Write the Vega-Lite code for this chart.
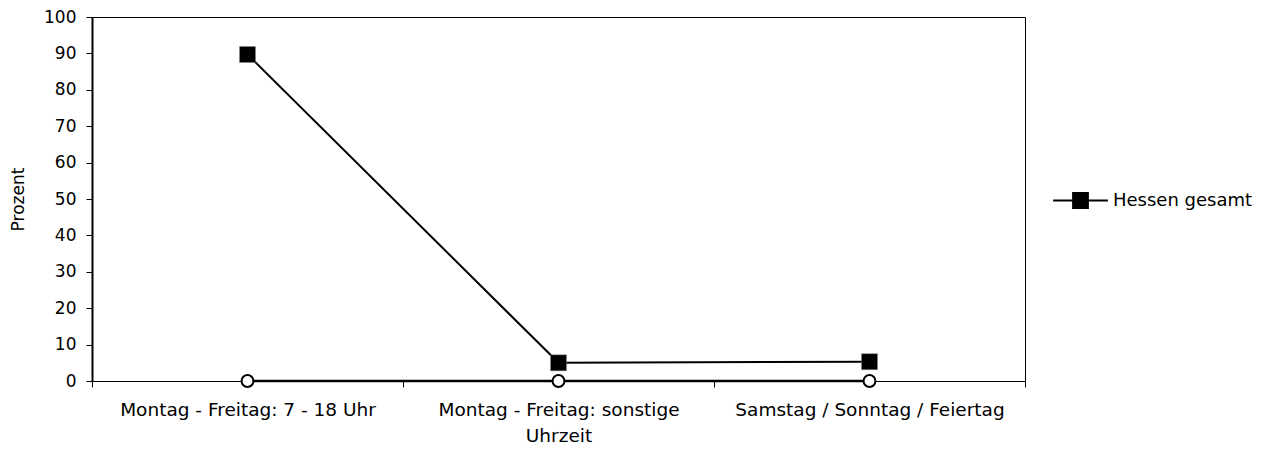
{
  "$schema": "https://vega.github.io/schema/vega-lite/v6.json",
  "width": 933,
  "height": 364,
  "autosize": {"type": "none"},
  "padding": {"left": 92, "top": 17, "right": 246, "bottom": 74},
  "background": "white",
  "config": {
    "font": "DejaVu Sans",
    "view": {"stroke": "black", "strokeWidth": 1},
    "axis": {
      "grid": false,
      "labelFont": "DejaVu Sans",
      "labelFontSize": 17,
      "labelColor": "black",
      "titleFont": "DejaVu Sans",
      "titleFontSize": 17,
      "titleFontWeight": "normal",
      "titleColor": "black",
      "tickColor": "black",
      "domainColor": "black",
      "tickSize": 6
    }
  },
  "data": {
    "values": [
      {"kategorie": "Montag - Freitag: 7 - 18 Uhr", "serie": "Hessen gesamt", "prozent": 89.7},
      {"kategorie": "Montag - Freitag: sonstige Uhrzeit", "serie": "Hessen gesamt", "prozent": 5.0},
      {"kategorie": "Samstag / Sonntag / Feiertag", "serie": "Hessen gesamt", "prozent": 5.3},
      {"kategorie": "Montag - Freitag: 7 - 18 Uhr", "serie": "Andere", "prozent": 0},
      {"kategorie": "Montag - Freitag: sonstige Uhrzeit", "serie": "Andere", "prozent": 0},
      {"kategorie": "Samstag / Sonntag / Feiertag", "serie": "Andere", "prozent": 0}
    ]
  },
  "encoding": {
    "x": {
      "field": "kategorie",
      "type": "nominal",
      "sort": null,
      "scale": {"type": "band", "paddingInner": 0, "paddingOuter": 0},
      "axis": {
        "title": null,
        "labelAngle": 0,
        "labelLimit": 400,
        "labelFontSize": 18.5,
        "tickBand": "extent",
        "labelPadding": 13,
        "domainWidth": 1,
        "labelExpr": "datum.label == 'Montag - Freitag: sonstige Uhrzeit' ? ['Montag - Freitag: sonstige', 'Uhrzeit'] : datum.label",
        "labelLineHeight": 26
      }
    },
    "y": {
      "field": "prozent",
      "type": "quantitative",
      "scale": {"domain": [0, 100], "nice": false},
      "axis": {
        "title": "Prozent",
        "values": [0, 10, 20, 30, 40, 50, 60, 70, 80, 90, 100],
        "labelPadding": 10,
        "titlePadding": 16,
        "domainWidth": 2
      }
    }
  },
  "layer": [
    {
      "transform": [{"filter": "datum.serie == 'Andere'"}],
      "mark": {"type": "line", "color": "black", "strokeWidth": 2.5}
    },
    {
      "transform": [{"filter": "datum.serie == 'Andere'"}],
      "mark": {"type": "point", "shape": "circle", "filled": true, "fill": "white", "stroke": "black", "strokeWidth": 2, "size": 140, "opacity": 1}
    },
    {
      "transform": [{"filter": "datum.serie == 'Hessen gesamt'"}],
      "mark": {"type": "line", "color": "black", "strokeWidth": 2}
    },
    {
      "transform": [{"filter": "datum.serie == 'Hessen gesamt'"}],
      "mark": {"type": "point", "shape": "square", "filled": true, "size": 256, "opacity": 1, "stroke": "#888", "strokeWidth": 0.5},
      "encoding": {
        "color": {
          "field": "serie",
          "type": "nominal",
          "scale": {"domain": ["Hessen gesamt"], "range": ["black"]},
          "legend": {
            "title": null,
            "orient": "none",
            "legendX": 960,
            "legendY": 155,
            "symbolType": "M-1,0H1M-0.27,-0.27H0.27V0.27H-0.27Z",
            "symbolSize": 3000,
            "symbolStrokeWidth": 2,
            "symbolStrokeColor": "black",
            "symbolFillColor": "black",
            "symbolOpacity": 1,
            "labelFont": "DejaVu Sans",
            "labelFontSize": 18,
            "labelColor": "black",
            "labelOffset": 4,
            "labelLimit": 300
          }
        }
      }
    }
  ]
}
